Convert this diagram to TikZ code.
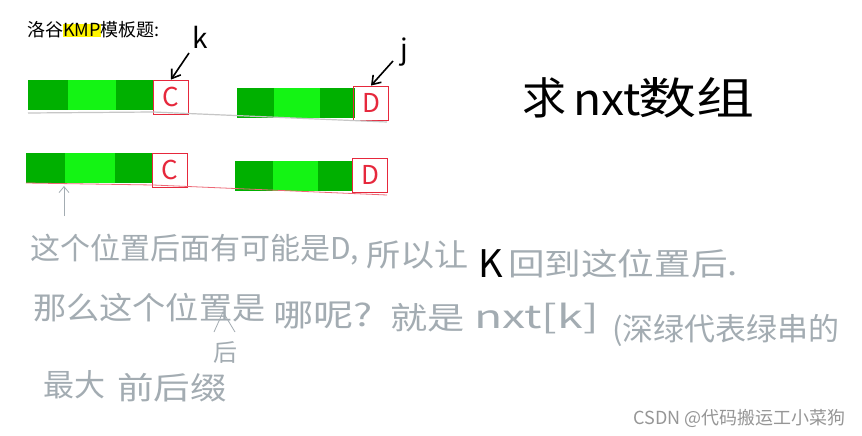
\documentclass[tikz,border=0pt]{standalone}
\usepackage{graphicx}
\usepackage{fontspec}
\newfontfamily\cjk{Noto Sans CJK SC}
\usetikzlibrary{arrows.meta}
\definecolor{dg}{RGB}{0,176,0}
\definecolor{lg}{RGB}{20,244,20}
\definecolor{rd}{RGB}{230,40,60}
\definecolor{pen}{RGB}{163,172,178}
\definecolor{wm}{RGB}{150,150,150}
\definecolor{hl}{RGB}{255,245,0}
\newcommand{\wide}[2]{\scalebox{#1}[1]{#2}}
\begin{document}
\begin{tikzpicture}[x=1pt,y=-1pt,
  dark/.style={fill=dg,draw=none},
  light/.style={fill=lg,draw=none},
  cbox/.style={draw=rd,line width=0.8pt,minimum width=35pt,minimum height=34pt,inner sep=0pt,text=rd,font=\cjk\fontsize{26}{26}\selectfont},
  hand/.style={text=pen,anchor=west,inner sep=0pt,font=\cjk\fontsize{31}{31}\selectfont},
  ink/.style={text=black,anchor=west,inner sep=0pt,font=\cjk\fontsize{44}{44}\selectfont},
  blackarrow/.style={draw=black,line width=1.6pt,-{Straight Barb[length=8pt,width=11pt]}},
  grayarrow/.style={draw=pen,line width=0.8pt,-{Straight Barb[length=6pt,width=10pt]}},
  baseline/.style={line width=1.2pt}
]
\useasboundingbox[fill=white] (0,0) rectangle (862,436);

% title
\node[anchor=west,inner sep=0pt,font=\cjk\fontsize{18}{18}\selectfont] (title) at (27,30)
  {洛谷{\setlength{\fboxsep}{0pt}\colorbox{hl}{KMP}}模板题:};

% row 1 bars
\fill[dark] (28,80) rectangle (68,110);
\fill[light] (68,80) rectangle (116,110);
\fill[dark] (116,80) rectangle (153,110);
\node[cbox] (c1) at (171,97) {C};
\fill[dark] (237,88) rectangle (274,118);
\fill[light] (274,88) rectangle (320,118);
\fill[dark] (320,88) rectangle (355,118);
\node[cbox] (d1) at (371,103) {D};
\draw[baseline,draw=gray!45] (28,113) -- (153,112) -- (387,122);

% k and j pointers
\node[inner sep=0pt,font=\cjk\fontsize{28}{28}\selectfont] (k) at (200,37) {k};
\coordinate (kt) at (189,53);
\draw[blackarrow] (kt) -- (c1.north);
\node[inner sep=0pt,font=\cjk\fontsize{28}{28}\selectfont] (j) at (404,52) {j};
\coordinate (jt) at (393,61);
\draw[blackarrow] (jt) -- (d1.north);

% row 2 bars
\fill[dark] (26,153) rectangle (65,183);
\fill[light] (65,153) rectangle (115,183);
\fill[dark] (115,153) rectangle (153,183);
\node[cbox] (c2) at (170,170) {C};
\fill[dark] (235,161) rectangle (273,191);
\fill[light] (273,161) rectangle (318,191);
\fill[dark] (318,161) rectangle (353,191);
\node[cbox] (d2) at (370,175) {D};
\draw[baseline,draw=rd!70,line width=0.8pt] (26,183) -- (153,185) -- (387,195);

% up arrow
\coordinate (ua) at (64,216);
\coordinate (ub) at (64,186);
\draw[grayarrow] (ua) -- (ub);

% big handwriting
\node[ink] (q) at (522,98) {求};
\node[ink] (nxt) at (573,100) {\wide{1.05}{nxt}};
\node[ink] (sz) at (638,98) {\wide{1.32}{数组}};

% line 1
\node[hand,font=\cjk\fontsize{30}{30}\selectfont] (l1a) at (30,250) {这个位置后面有可能是D,};
\node[hand] (l1b) at (366,255) {\wide{1.1}{所以让}};
\node[hand,text=black,font=\cjk\fontsize{38}{38}\selectfont] (l1k) at (478,264) {K};
\node[hand] (l1c) at (508,264) {\wide{1.18}{回到这位置后.}};

% line 2
\node[hand] (l2a) at (33,308) {\wide{1.07}{那么这个位置是}};
\node[hand] (l2b) at (273,315) {\wide{1.3}{哪呢?}};
\node[hand] (l2c) at (390,318) {\wide{1.2}{就是}};
\node[hand,font=\cjk\fontsize{32}{32}\selectfont] (l2d) at (474,318) {\wide{1.45}{nxt[k]}};
\node[hand] (l2e) at (612,330) {(深绿代表绿串的};

% insertion mark
\coordinate (ca) at (214,332);
\coordinate (cb) at (223,312);
\coordinate (cc) at (235,332);
\draw[pen,line width=0.8pt] (ca) -- (cb) -- (cc);
\node[hand,anchor=center,font=\cjk\fontsize{24}{24}\selectfont] (hou) at (225,352) {后};

% line 3
\node[hand] (l3a) at (43,385) {最大};
\node[hand] (l3b) at (117,388) {\wide{1.18}{前后缀}};

% watermark
\node[anchor=east,inner sep=0pt,text=wm,font=\cjk\fontsize{18}{18}\selectfont] (wm) at (846,418) {CSDN @代码搬运工小菜狗};
\end{tikzpicture}
\end{document}
